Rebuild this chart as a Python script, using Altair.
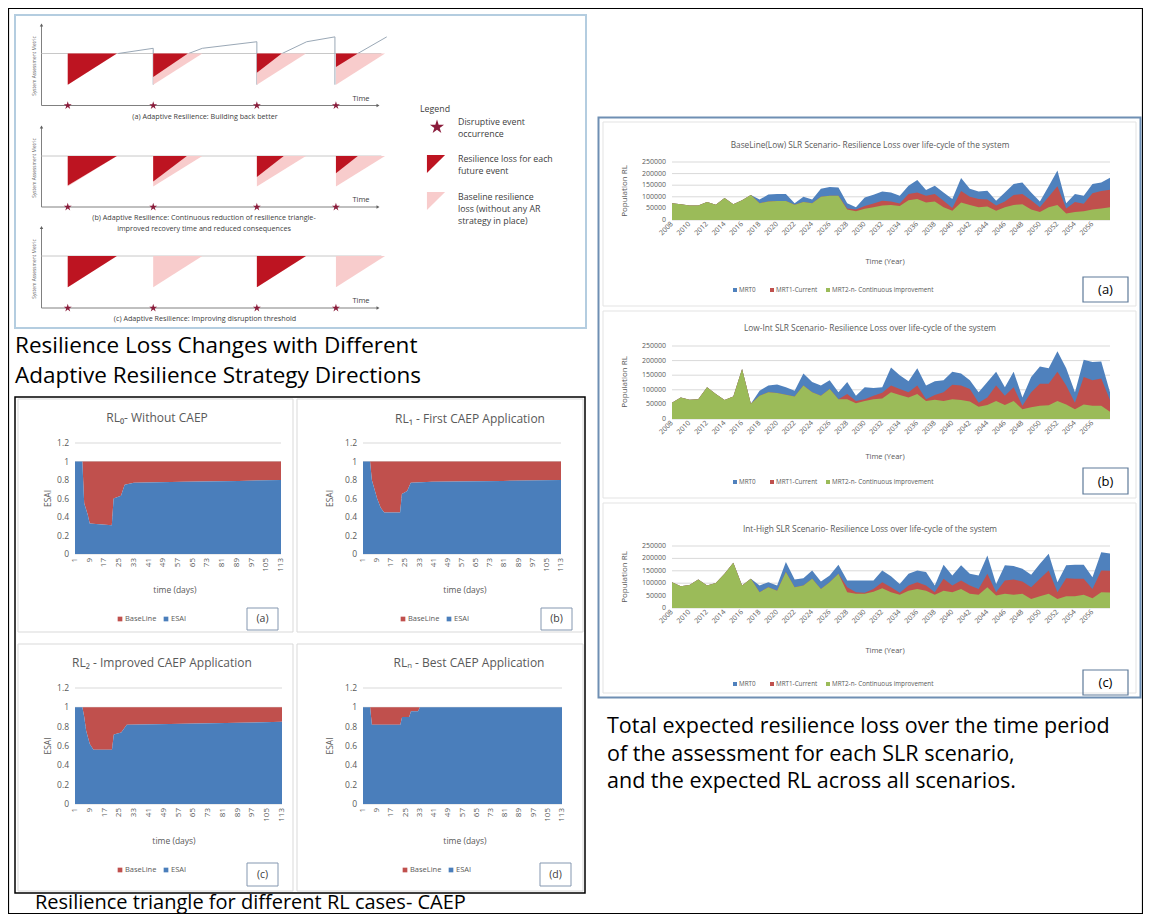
import altair as alt
import pandas as pd

# ============================================================ data
# --- conceptual diagram (time units 0-100, metric: baseline = 1)
DIAG_EVENT_T = [7.8, 33.2, 64.0, 87.5]
DIAG_BASE_DEPTH = 0.6
DIAG_BASE_DUR = 14.6
DIAG_A_DEPTH = [0.6, 0.45, 0.37, 0.26]
DIAG_A_DUR = [14.6, 10.3, 7.4, 6.5]
DIAG_B_DEPTH = [0.58, 0.50, 0.41, 0.34]
DIAG_B_DUR = [14.6, 10.0, 8.0, 6.5]
DIAG_C_DEPTH = [0.6, 0.0, 0.6, 0.0]
DIAG_C_DUR = [14.6, 0.0, 14.6, 0.0]
PERF_T = [22.8, 33.2, 33.2, 43.7, 47.8, 64.0, 64.0, 71.5, 78.8, 87.2, 87.2, 94.0, 102.6]
PERF_V = [1.0, 1.1, 0.4, 1.0, 1.1, 1.226, 0.4, 1.0, 1.226, 1.32, 0.4, 1.0, 1.32]
PERF_SEG = [1, 1, 1, 2, 2, 2, 2, 3, 3, 3, 3, 4, 4]
DIAG_CAPTIONS = [
    ["(a) Adaptive Resilience: Building back better"],
    ["(b) Adaptive Resilience: Continuous reduction of resilience triangle-",
     "improved recovery time and reduced consequences"],
    ["(c) Adaptive Resilience: Improving disruption threshold"],
]
DIAG_YTITLE = "System Assessment Metric"
DIAG_TIME = "Time"
DIAG_LEGEND_TITLE = "Legend"
DIAG_LEGEND = [
    ["Disruptive event", "occurrence"],
    ["Resilience loss for each", "future event"],
    ["Baseline resilience", "loss (without any AR", "strategy in place)"],
]

# --- ESAI resilience-triangle panels
ESAI_TICKS = [0, 0.2, 0.4, 0.6, 0.8, 1.0, 1.2]
DAY_TICKS = [1, 9, 17, 25, 33, 41, 49, 57, 65, 73, 81, 89, 97, 105, 113]
RL0_DAYS = [1, 5, 6, 8, 9, 21, 22, 26, 28, 33, 60, 90, 113]
RL0_ESAI = [1.0, 1.0, 0.55, 0.42, 0.33, 0.31, 0.60, 0.63, 0.75, 0.77, 0.78, 0.79, 0.80]
RL1_DAYS = [1, 5, 6, 9, 11, 13, 22, 23, 26, 28, 40, 80, 113]
RL1_ESAI = [1.0, 1.0, 0.8, 0.6, 0.5, 0.45, 0.45, 0.65, 0.68, 0.77, 0.78, 0.79, 0.80]
RL2_DAYS = [1, 5, 6, 7, 9, 11, 21, 22, 26, 29, 60, 90, 113]
RL2_ESAI = [1.0, 1.0, 0.9, 0.76, 0.62, 0.56, 0.56, 0.72, 0.74, 0.82, 0.83, 0.84, 0.85]
RLN_DAYS = [1, 5, 6, 22, 23, 27, 28, 32, 33, 113]
RLN_ESAI = [1.0, 1.0, 0.82, 0.82, 0.9, 0.9, 0.96, 0.96, 1.0, 1.0]
ESAI_TITLES = ["RL\u2080- Without CAEP", "RL\u2081 - First CAEP Application",
               "RL\u2082 - Improved CAEP Application", "RL\u2099 - Best CAEP Application"]
ESAI_TAGS = ["(a)", "(b)", "(c)", "(d)"]
ESAI_SERIES = ["BaseLine", "ESAI"]

# --- SLR scenario panels (values in thousands of population RL)
YEARS = list(range(2008, 2059))
YEAR_TICKS = list(range(2008, 2057, 2))
RL_TICKS = [0, 50000, 100000, 150000, 200000, 250000]
LOW_MRT0 = [72, 68, 62, 62, 78, 66, 95, 68, 85, 108,
            88, 110, 112, 112, 72, 100, 88, 135, 142, 140,
            72, 55, 97, 109, 123, 119, 104, 148, 172, 129,
            148, 119, 90, 181, 135, 123, 126, 83, 119, 155,
            162, 119, 80, 145, 213, 72, 112, 104, 155, 162, 182]
LOW_MRT1 = [72, 68, 62, 62, 78, 66, 95, 68, 85, 108,
            72, 80, 82, 82, 66, 78, 72, 100, 105, 104,
            50, 45, 60, 71, 83, 80, 71, 112, 119, 104,
            112, 83, 52, 125, 100, 90, 88, 62, 80, 108,
            112, 85, 55, 100, 145, 50, 78, 70, 115, 125, 130]
LOW_MRT2 = [72, 68, 62, 62, 78, 66, 95, 68, 85, 108,
            72, 80, 82, 82, 66, 78, 72, 100, 105, 104,
            45, 38, 48, 55, 62, 65, 60, 85, 90, 75,
            80, 55, 40, 75, 65, 55, 58, 40, 55, 65,
            68, 45, 35, 55, 65, 28, 35, 38, 45, 50, 55]
LOWINT_MRT0 = [56, 74, 66, 68, 109, 86, 65, 77, 171, 52,
               97, 115, 118, 109, 97, 156, 127, 115, 133, 92,
               127, 80, 109, 106, 109, 176, 150, 129, 174, 115,
               129, 133, 162, 156, 133, 92, 127, 162, 109, 162,
               74, 144, 180, 174, 232, 174, 92, 203, 195, 197, 92]
LOWINT_MRT1 = [56, 74, 66, 68, 109, 86, 65, 77, 171, 52,
               80, 92, 89, 83, 77, 115, 92, 80, 103, 68,
               86, 62, 68, 80, 90, 115, 103, 92, 115, 68,
               82, 92, 117, 115, 103, 56, 74, 115, 80, 109,
               45, 92, 121, 121, 162, 115, 56, 144, 133, 139, 65]
LOWINT_MRT2 = [56, 74, 66, 68, 109, 86, 65, 77, 171, 52,
               80, 92, 89, 83, 77, 115, 92, 80, 103, 68,
               68, 54, 62, 68, 70, 92, 82, 74, 86, 62,
               66, 62, 68, 65, 60, 42, 48, 62, 48, 62,
               33, 40, 45, 47, 62, 50, 33, 50, 45, 45, 25]
INTHIGH_MRT0 = [104, 88, 93, 115, 91, 101, 138, 182, 91, 118,
                91, 104, 91, 185, 115, 120, 151, 107, 131, 174,
                111, 111, 111, 111, 151, 128, 97, 138, 151, 145,
                91, 174, 131, 172, 138, 131, 212, 97, 172, 169,
                158, 134, 178, 219, 104, 172, 174, 174, 124, 225, 220]
INTHIGH_MRT1 = [104, 88, 93, 115, 91, 101, 138, 182, 91, 118,
                64, 84, 70, 145, 84, 91, 118, 77, 104, 138,
                84, 64, 61, 77, 104, 84, 61, 91, 104, 91,
                64, 118, 91, 111, 91, 77, 138, 64, 111, 115,
                107, 84, 118, 151, 64, 120, 118, 118, 77, 151, 150]
INTHIGH_MRT2 = [104, 88, 93, 115, 91, 101, 138, 182, 91, 118,
                64, 84, 70, 145, 84, 91, 118, 77, 104, 138,
                64, 57, 57, 66, 80, 64, 53, 70, 77, 70,
                53, 70, 64, 77, 57, 53, 84, 50, 57, 53,
                57, 36, 47, 57, 36, 47, 47, 53, 39, 64, 62]
SLR_TITLES = ["BaseLine(Low) SLR Scenario- Resilience Loss over life-cycle of the system",
              "Low-Int SLR Scenario- Resilience Loss over life-cycle of the system",
              "Int-High SLR Scenario- Resilience Loss over life-cycle of the system"]
SLR_SERIES = ["MRT0", "MRT1-Current", "MRT2-n- Continuous improvement"]
SLR_TAGS = ["(a)", "(b)", "(c)"]

CAPTION_LEFT_TOP = ["Resilience Loss Changes with Different",
                    "Adaptive Resilience Strategy Directions"]
CAPTION_LEFT_BOTTOM = "Resilience triangle for different RL cases- CAEP"
CAPTION_RIGHT = ["Total expected resilience loss over the time period",
                 "of the assessment for each SLR scenario,",
                 "and the expected RL across all scenarios."]

# ============================================================ style / layout
W, H, M = 1135, 906, 8
FONT = "Open Sans"
GRAY = "#595959"
E_BLUE, E_RED = "#4a7ebb", "#c0504d"
S_BLUE, S_RED, S_GREEN = "#4f81bd", "#c0504d", "#9bbb59"
D_DARK, D_PINK, D_STAR = "#bd1421", "#f8cccc", "#8b1c3b"
LINE_GRAY = "#c8c8c8"
STAR_PATH = ("M0,-1L0.2245,-0.309L0.951,-0.309L0.363,0.118L0.588,0.809L0,0.382"
             "L-0.588,0.809L-0.363,0.118L-0.951,-0.309L-0.2245,-0.309Z")
TRI_PATH = "M-1,-1L1,-1L-1,1Z"


def c(v):
    return v - M


def tx(rows, size, color=GRAY, align="left", baseline="middle", angle=0, weight="normal"):
    df = pd.DataFrame(rows, columns=["x", "y", "t"])
    df["x"] = df["x"] - M
    df["y"] = df["y"] - M
    kw = dict(fontSize=size, color=color, align=align, baseline=baseline, font=FONT, fontWeight=weight)
    if angle:
        kw["angle"] = angle
    return alt.Chart(df).mark_text(**kw).encode(
        x=alt.X("x:Q", scale=None), y=alt.Y("y:Q", scale=None), text=alt.Text("t:N"))


def boxes(rows, color, width=1.0):
    df = pd.DataFrame(rows, columns=["x", "y", "x2", "y2"]) - M
    return alt.Chart(df).mark_rect(fillOpacity=0, stroke=color, strokeWidth=width).encode(
        x=alt.X("x:Q", scale=None), x2="x2:Q", y=alt.Y("y:Q", scale=None), y2="y2:Q")


def squares(rows, size):
    df = pd.DataFrame(rows, columns=["x", "y", "col"])
    df["x"] = df["x"] - M
    df["y"] = df["y"] - M
    return alt.Chart(df).mark_square(size=size, opacity=1).encode(
        x=alt.X("x:Q", scale=None), y=alt.Y("y:Q", scale=None), color=alt.Color("col:N", scale=None))


def ylabels(values, labels, ys, px_right, size):
    """Value-axis tick labels placed through the panel's y scale."""
    df = pd.DataFrame({"v": values, "lab": labels, "px": [c(px_right)] * len(values)})
    return alt.Chart(df).mark_text(fontSize=size, color=GRAY, align="right", baseline="middle",
                                   font=FONT).encode(
        x=alt.X("px:Q", scale=None), y=alt.Y("v:Q", scale=ys, axis=None), text="lab:N")


def xlabels(values, labels, xs, py_top, size, angle):
    """Rotated category tick labels placed through the panel's x scale."""
    df = pd.DataFrame({"v": values, "lab": labels, "py": [c(py_top)] * len(values)})
    return alt.Chart(df).mark_text(fontSize=size, color=GRAY, align="right", baseline="middle",
                                   font=FONT, angle=angle).encode(
        x=alt.X("v:Q", scale=xs, axis=None), y=alt.Y("py:Q", scale=None), text="lab:N")


layers = []

# ============================================================ outer frame
layers.append(boxes([[8.5, 8.5, 1142.5, 913.5]], "#000000", 1.2))

# ============================================================ conceptual diagram
layers.append(boxes([[15, 15, 586, 328]], "#b4cde0", 2))
DIAG_GEOM = [  # (page y of metric 0, page y of baseline, axis top value)
    (105.5, 53.5, 1.55),
    (207.0, 156.0, 1.57),
    (308.0, 256.0, 1.55),
]
DIAG_DEPTHS = [DIAG_A_DEPTH, DIAG_B_DEPTH, DIAG_C_DEPTH]
DIAG_DURS = [DIAG_A_DUR, DIAG_B_DUR, DIAG_C_DUR]
for k, (ybot, ybase, ytop) in enumerate(DIAG_GEOM):
    xs = alt.Scale(domain=[0, 100], range=[c(41.5), c(378)], nice=False, zero=False)
    ys = alt.Scale(domain=[0, 1], range=[c(ybot), c(ybase)], nice=False, zero=False)

    def X(f):
        return alt.X(f, scale=xs, axis=None)

    def Y(f):
        return alt.Y(f, scale=ys, axis=None)

    sub = []
    ax = pd.DataFrame({"x": [0, 0], "y": [0, 0], "x2": [0, 100], "y2": [ytop, 0]})
    sub.append(alt.Chart(ax).mark_rule(color="#808080", strokeWidth=1).encode(
        x=X("x:Q"), y=Y("y:Q"), x2="x2:Q", y2="y2:Q"))
    sub.append(alt.Chart(pd.DataFrame({"x": [0], "y": [ytop]})).mark_point(
        shape="triangle-up", filled=True, size=12, color="#606060", opacity=1).encode(x=X("x:Q"), y=Y("y:Q")))
    sub.append(alt.Chart(pd.DataFrame({"x": [100], "y": [0]})).mark_point(
        shape="triangle-right", filled=True, size=12, color="#606060", opacity=1).encode(x=X("x:Q"), y=Y("y:Q")))
    bl = pd.DataFrame({"x": [0], "x2": [101], "y": [1.0]})
    sub.append(alt.Chart(bl).mark_rule(color=LINE_GRAY, strokeWidth=1).encode(
        x=X("x:Q"), x2="x2:Q", y=Y("y:Q")))
    if k == 0:
        segs = []
        for i in range(len(PERF_T) - 1):
            if PERF_SEG[i] == PERF_SEG[i + 1]:
                segs.append([PERF_T[i], PERF_V[i], PERF_T[i + 1], PERF_V[i + 1]])
        pf = pd.DataFrame(segs, columns=["x", "y", "x2", "y2"])
        sub.append(alt.Chart(pf).mark_rule(color="#9aa8b6", strokeWidth=1).encode(
            x=X("x:Q"), y=Y("y:Q"), x2="x2:Q", y2="y2:Q"))
    for i, t in enumerate(DIAG_EVENT_T):
        tri = pd.DataFrame({"t": [t, t + DIAG_BASE_DUR], "lo": [1 - DIAG_BASE_DEPTH, 1.0], "hi": [1.0, 1.0]})
        sub.append(alt.Chart(tri).mark_area(color=D_PINK, opacity=1).encode(
            x=X("t:Q"), y=Y("lo:Q"), y2="hi:Q"))
    for i, t in enumerate(DIAG_EVENT_T):
        d, u = DIAG_DEPTHS[k][i], DIAG_DURS[k][i]
        if d > 0:
            tri = pd.DataFrame({"t": [t, t + u], "lo": [1 - d, 1.0], "hi": [1.0, 1.0]})
            sub.append(alt.Chart(tri).mark_area(color=D_DARK, opacity=1).encode(
                x=X("t:Q"), y=Y("lo:Q"), y2="hi:Q"))
    sub.append(alt.Chart(pd.DataFrame({"t": DIAG_EVENT_T, "y": [0.0] * 4})).mark_point(
        shape=STAR_PATH, filled=True, size=70, color=D_STAR, opacity=1).encode(x=X("t:Q"), y=Y("y:Q")))
    layers.append(alt.layer(*sub))

# diagram texts
cap_rows = [[205, 117, DIAG_CAPTIONS[0][0]],
            [204, 218, DIAG_CAPTIONS[1][0]], [204, 228.5, DIAG_CAPTIONS[1][1]],
            [205, 319, DIAG_CAPTIONS[2][0]]]
layers.append(tx(cap_rows, 7.2, color="#404040", align="center"))
layers.append(tx([[361, 99, DIAG_TIME], [361, 200, DIAG_TIME], [361, 301, DIAG_TIME]], 7.5, color="#404040",
                 align="center"))
layers.append(tx([[35, 66, DIAG_YTITLE], [35, 168, DIAG_YTITLE], [35, 269, DIAG_YTITLE]], 4.8,
                 color="#606060", align="center", angle=270))
layers.append(tx([[420, 109, DIAG_LEGEND_TITLE]], 8.8, color="#404040"))
leg_rows = [[458, 122, DIAG_LEGEND[0][0]], [458, 134, DIAG_LEGEND[0][1]],
            [458, 159, DIAG_LEGEND[1][0]], [458, 171, DIAG_LEGEND[1][1]],
            [458, 197, DIAG_LEGEND[2][0]], [458, 209, DIAG_LEGEND[2][1]], [458, 221, DIAG_LEGEND[2][2]]]
layers.append(tx(leg_rows, 8.8, color="#404040"))
layers.append(alt.Chart(pd.DataFrame({"x": [c(437)], "y": [c(127)]})).mark_point(
    shape=STAR_PATH, filled=True, size=220, color=D_STAR, opacity=1).encode(
    x=alt.X("x:Q", scale=None), y=alt.Y("y:Q", scale=None)))
layers.append(alt.Chart(pd.DataFrame({"x": [c(436), c(436)], "y": [c(164), c(201)],
                                      "col": [D_DARK, D_PINK]})).mark_point(
    shape=TRI_PATH, filled=True, size=330, opacity=1).encode(
    x=alt.X("x:Q", scale=None), y=alt.Y("y:Q", scale=None), color=alt.Color("col:N", scale=None)))

# big captions
layers.append(tx([[15, 346, CAPTION_LEFT_TOP[0]], [15, 376, CAPTION_LEFT_TOP[1]]], 22.5, color="#000000"))
layers.append(tx([[35, 903, CAPTION_LEFT_BOTTOM]], 20, color="#000000"))
layers.append(tx([[607, 727, CAPTION_RIGHT[0]], [607, 754.5, CAPTION_RIGHT[1]],
                  [607, 782, CAPTION_RIGHT[2]]], 21.5, color="#000000"))

# ============================================================ ESAI panels
layers.append(boxes([[15, 397, 585, 893]], "#000000", 1.5))
ESAI_DATA = [(RL0_DAYS, RL0_ESAI), (RL1_DAYS, RL1_ESAI), (RL2_DAYS, RL2_ESAI), (RLN_DAYS, RLN_ESAI)]
ESAI_GEOM = [
    dict(frame=[18, 399, 293, 632], x0=75, x1=281, y0=554, y1=443, tcx=157, ty=418, ytx=48, xtx=175, xty=590,
         ly=619, lx=120, tag=[247, 608, 278, 630]),
    dict(frame=[297, 399, 583, 632], x0=363, x1=561, y0=554, y1=443, tcx=470, ty=419, ytx=330, xtx=465, xty=590,
         ly=619, lx=403, tag=[541, 608, 572, 630]),
    dict(frame=[18, 644, 293, 891], x0=75, x1=282, y0=804, y1=688, tcx=162, ty=663, ytx=48, xtx=174, xty=841,
         ly=870, lx=120, tag=[247, 863, 278, 886]),
    dict(frame=[297, 644, 583, 891], x0=363, x1=562, y0=804, y1=688, tcx=469, ty=663, ytx=330, xtx=465, xty=841,
         ly=870, lx=405, tag=[540, 863, 571, 886]),
]
ESAI_TICK_LABELS = ["%g" % v for v in ESAI_TICKS]
DAY_TICK_LABELS = [str(v) for v in DAY_TICKS]
for k, g in enumerate(ESAI_GEOM):
    days, vals = ESAI_DATA[k]
    layers.append(boxes([g["frame"]], "#d9d9d9", 1))
    xs = alt.Scale(domain=[1, 113], range=[c(g["x0"]), c(g["x1"])], nice=False, zero=False)
    ys = alt.Scale(domain=[0, 1.2], range=[c(g["y0"]), c(g["y1"])], nice=False, zero=False)
    df = pd.DataFrame({"day": days, "esai": vals, "top": [1.0] * len(days), "bottom": [0.0] * len(days)})
    gdf = pd.DataFrame({"v": ESAI_TICKS, "x": [1] * len(ESAI_TICKS), "x2": [113] * len(ESAI_TICKS)})
    grid = alt.Chart(gdf).mark_rule(color="#d9d9d9", strokeWidth=1).encode(
        y=alt.Y("v:Q", scale=ys, axis=None), x=alt.X("x:Q", scale=xs, axis=None), x2="x2:Q")
    red = alt.Chart(df).mark_area(color=E_RED, opacity=1).encode(
        x=alt.X("day:Q", scale=xs, axis=None), y=alt.Y("esai:Q", scale=ys, axis=None), y2="top:Q")
    blue = alt.Chart(df).mark_area(color=E_BLUE, opacity=1).encode(
        x=alt.X("day:Q", scale=xs, axis=None), y=alt.Y("esai:Q", scale=ys, axis=None), y2="bottom:Q")
    layers.append(alt.layer(grid, red, blue))
    layers.append(ylabels(ESAI_TICKS, ESAI_TICK_LABELS, ys, g["x0"] - 6, 8.5))
    layers.append(xlabels(DAY_TICKS, DAY_TICK_LABELS, xs, g["y0"] + 4, 8, 270))
    layers.append(tx([[g["tcx"], g["ty"], ESAI_TITLES[k]]], 12, align="center"))
    layers.append(tx([[g["ytx"], (g["y0"] + g["y1"]) / 2, "ESAI"]], 8.5, align="center", angle=270))
    layers.append(tx([[g["xtx"], g["xty"], "time (days)"]], 8.5, align="center"))
    lx = g["lx"]
    layers.append(squares([[lx, g["ly"], E_RED], [lx + 46, g["ly"], E_BLUE]], 22))
    layers.append(tx([[lx + 5, g["ly"], ESAI_SERIES[0]], [lx + 51, g["ly"], ESAI_SERIES[1]]], 7.5))
    layers.append(boxes([g["tag"]], "#8497b0", 1))
    layers.append(tx([[(g["tag"][0] + g["tag"][2]) / 2, (g["tag"][1] + g["tag"][3]) / 2, ESAI_TAGS[k]]], 10.5,
                     color="#404040", align="center"))

# ============================================================ SLR panels
layers.append(boxes([[598.5, 117.5, 1140.5, 697.5]], "#6f8fb3", 2))
SLR_DATA = [(LOW_MRT0, LOW_MRT1, LOW_MRT2), (LOWINT_MRT0, LOWINT_MRT1, LOWINT_MRT2),
            (INTHIGH_MRT0, INTHIGH_MRT1, INTHIGH_MRT2)]
SLR_GEOM = [
    dict(frame=[603, 122, 1136, 306], y0=220, y1=162, ty=146, yty=191, xty=262, ly=290, tag=[1083, 277, 1128, 302]),
    dict(frame=[603, 311, 1136, 498], y0=419, y1=346, ty=329, yty=382, xty=457, ly=482, tag=[1083, 468, 1128, 494]),
    dict(frame=[603, 503, 1136, 693], y0=608, y1=546, ty=530, yty=577, xty=651, ly=684, tag=[1083, 670, 1128, 695]),
]
RL_TICK_LABELS = [str(v) for v in RL_TICKS]
YEAR_TICK_LABELS = [str(v) for v in YEAR_TICKS]
for k, g in enumerate(SLR_GEOM):
    b, r, gr = SLR_DATA[k]
    layers.append(boxes([g["frame"]], "#e3e3e3", 1))
    xs = alt.Scale(domain=[2008, 2058], range=[c(672), c(1110)], nice=False, zero=False)
    ys = alt.Scale(domain=[0, 250000], range=[c(g["y0"]), c(g["y1"])], nice=False, zero=False)
    df = pd.DataFrame({"year": YEARS, "mrt0": [v * 1000 for v in b], "mrt1": [v * 1000 for v in r],
                       "mrt2": [v * 1000 for v in gr], "zero": [0] * len(YEARS)})
    gdf = pd.DataFrame({"v": RL_TICKS, "x": [2008] * len(RL_TICKS), "x2": [2058] * len(RL_TICKS)})
    grid = alt.Chart(gdf).mark_rule(color="#d9d9d9", strokeWidth=1).encode(
        y=alt.Y("v:Q", scale=ys, axis=None), x=alt.X("x:Q", scale=xs, axis=None), x2="x2:Q")
    parts = [grid]
    for j, (col, colr) in enumerate([("mrt0", S_BLUE), ("mrt1", S_RED), ("mrt2", S_GREEN)]):
        parts.append(alt.Chart(df).mark_area(color=colr, opacity=1).encode(
            x=alt.X("year:Q", scale=xs, axis=None),
            y=alt.Y(col + ":Q", scale=ys, axis=None), y2="zero:Q"))
    layers.append(alt.layer(*parts))
    layers.append(ylabels(RL_TICKS, RL_TICK_LABELS, ys, 666, 7))
    layers.append(xlabels(YEAR_TICKS, YEAR_TICK_LABELS, xs, g["y0"] + 3, 7, 315))
    layers.append(tx([[870, g["ty"], SLR_TITLES[k]]], 8.3, align="center"))
    layers.append(tx([[625, g["yty"], "Population RL"]], 8, align="center", angle=270))
    layers.append(tx([[885, g["xty"], "Time (Year)"]], 7.5, align="center"))
    layers.append(squares([[735, g["ly"], S_BLUE], [772, g["ly"], S_RED], [828, g["ly"], S_GREEN]], 16))
    layers.append(tx([[739, g["ly"], SLR_SERIES[0]], [776, g["ly"], SLR_SERIES[1]],
                      [832, g["ly"], SLR_SERIES[2]]], 6.3))
    layers.append(boxes([g["tag"]], "#5e7a99", 1.2))
    layers.append(tx([[(g["tag"][0] + g["tag"][2]) / 2, (g["tag"][1] + g["tag"][3]) / 2 + 0.5, SLR_TAGS[k]]],
                     13, color="#000000", align="center"))

chart = alt.layer(*layers).resolve_scale(x="independent", y="independent").properties(
    width=W, height=H, padding=0, autosize=alt.AutoSizeParams(type="none"), background="white"
).configure_view(strokeWidth=0)

chart.save("out.html", embed_options={"renderer": "svg", "actions": False})
